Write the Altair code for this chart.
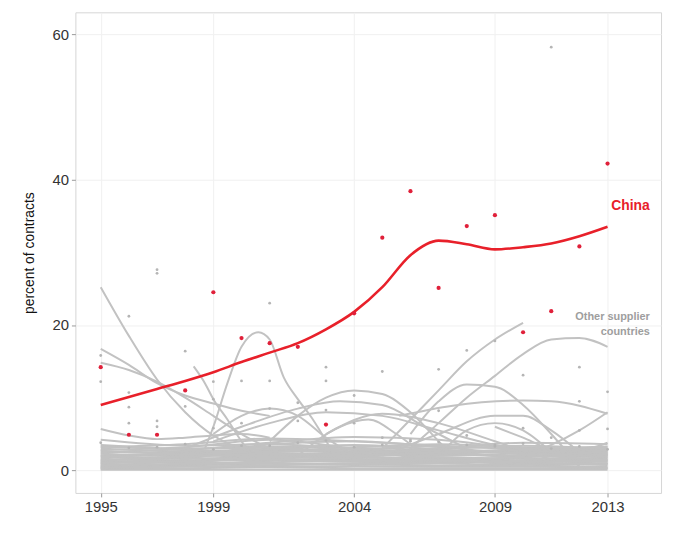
import altair as alt
import pandas as pd

# ---- China (red) ----
china_years = list(range(1995, 2014))
china_values = [14.2, 4.9, 4.9, 11.0, 24.5, 18.2, 17.5, 17.0, 6.3, 21.6,
                32.0, 38.4, 25.1, 33.6, 35.1, 19.0, 21.9, 30.8, 42.2]
china_smooth = [9.0, 10.1, 11.2, 12.3, 13.5, 14.9, 16.2, 17.5, 19.4, 21.8,
                25.2, 29.6, 31.6, 31.1, 30.4, 30.7, 31.2, 32.2, 33.5]

# ---- other supplier countries: smoothed curves (year knots, values) ----
K = [1995, 1998, 2001, 2004, 2007, 2010, 2013]
other_lines = {
    "L01": (K, [0.1, 0.1, 0.1, 0.1, 0.1, 0.1, 0.1]),
    "L02": (K, [0.3, 0.3, 0.4, 0.3, 0.3, 0.3, 0.3]),
    "L03": (K, [0.5, 0.6, 0.5, 0.6, 0.5, 0.5, 0.6]),
    "L04": (K, [0.8, 0.7, 0.9, 0.8, 0.7, 0.8, 0.9]),
    "L05": (K, [1.0, 1.1, 0.9, 1.0, 1.2, 1.0, 1.0]),
    "L06": (K, [1.2, 1.3, 1.4, 1.2, 1.1, 1.3, 1.2]),
    "L07": (K, [1.5, 1.4, 1.6, 1.5, 1.6, 1.4, 1.5]),
    "L08": (K, [1.8, 1.6, 1.9, 1.7, 1.8, 1.6, 1.7]),
    "L09": (K, [2.0, 2.1, 1.8, 2.0, 2.2, 1.9, 2.0]),
    "L10": (K, [2.3, 2.0, 2.4, 2.2, 2.0, 2.3, 2.1]),
    "L11": (K, [2.6, 2.4, 2.7, 2.5, 2.4, 2.6, 2.3]),
    "L12": (K, [3.0, 2.6, 2.9, 2.8, 2.6, 2.7, 2.5]),
    "L13": (K, [3.5, 3.0, 3.3, 3.1, 2.8, 2.5, 2.2]),
    "L14": (K, [4.2, 3.4, 3.6, 3.0, 2.4, 2.0, 1.8]),
    "L15": (K, [0.2, 1.0, 2.0, 2.5, 1.5, 0.8, 0.4]),
    "L16": (K, [1.3, 2.0, 3.0, 3.5, 2.8, 1.6, 0.9]),
    "L17": (K, [0.6, 1.5, 3.6, 4.0, 3.2, 2.2, 1.4]),
    "L18": (K, [2.8, 3.2, 4.2, 3.0, 1.8, 1.2, 1.5]),
    "L19": (K, [1.6, 2.7, 3.8, 4.6, 4.2, 3.0, 2.6]),
    "L20": (K, [0.9, 1.8, 2.6, 3.2, 3.6, 3.2, 2.8]),
    "L21": (K, [0.4, 0.8, 1.3, 1.8, 2.4, 2.8, 3.2]),
    "L22": (K, [2.4, 2.9, 3.1, 2.6, 2.9, 3.4, 3.0]),
    "L23": (K, [3.2, 3.6, 4.4, 4.0, 3.4, 2.9, 2.4]),
    "L24": (K, [1.1, 1.2, 1.7, 2.3, 3.0, 3.8, 3.6]),
    "L25": (K, [2.1, 2.3, 2.5, 2.9, 3.3, 3.0, 2.7]),
    "L26": (K, [0.7, 0.9, 1.1, 1.4, 1.3, 1.1, 0.8]),
    "L27": (K, [1.9, 1.7, 1.5, 1.3, 1.5, 1.8, 2.2]),
    "L28": (K, [2.7, 2.2, 2.0, 2.4, 2.7, 2.4, 1.9]),
    "L29": (K, [0.4, 0.5, 0.7, 0.9, 1.0, 0.6, 0.3]),
    "L30": (K, [1.4, 1.9, 2.2, 1.9, 1.4, 1.2, 1.3]),
    "L31": (K, [3.3, 2.8, 2.3, 2.1, 2.5, 2.9, 3.3]),
    "G1": ([1995, 1996, 1997, 1998, 1999, 2000, 2001], [25.2, 18.5, 12.5, 8.0, 4.8, 3.0, 2.2]),
    "G2": ([1995, 1996, 1997, 1998, 1999, 2000, 2001], [16.7, 14.5, 12.0, 10.3, 9.2, 8.2, 7.5]),
    "G3": ([1995, 1996, 1997, 1998, 1999, 2000, 2001], [14.8, 13.8, 12.2, 10.0, 7.5, 5.0, 3.0]),
    "G4": ([1995, 1996, 1997, 1998, 1999, 2000, 2001], [5.7, 4.8, 4.3, 4.5, 4.8, 5.0, 4.5]),
    "G5": ([1998.3, 1998.7, 1999, 1999.5, 2000, 2000.5], [14.3, 12.0, 9.8, 7.0, 4.0, 1.5]),
    "G6": ([1998.7, 1999, 1999.5, 2000, 2000.6, 2001, 2001.5, 2002, 2002.5, 2003.1],
           [3.0, 6.0, 12.0, 17.0, 19.0, 18.0, 12.8, 9.8, 7.2, 3.4]),
    "M1": ([1998, 2000, 2002, 2003.5, 2005, 2006.5, 2008], [3.0, 6.0, 8.5, 9.5, 9.0, 6.0, 3.0]),
    "M2": ([2001, 2002, 2003, 2004, 2005, 2006, 2007, 2007.5], [4.0, 7.5, 10.0, 11.0, 10.5, 8.0, 4.0, 2.0]),
    "M3": ([1999, 2001, 2003, 2005, 2007, 2009, 2011], [4.0, 6.5, 8.0, 7.5, 5.5, 3.5, 2.5]),
    "M4": ([2003, 2005, 2007, 2009, 2011], [5.0, 7.8, 6.5, 4.0, 1.5]),
    "M5": ([2002, 2003.5, 2004.5, 2005.5, 2006.5], [2.0, 6.0, 7.0, 5.0, 2.0]),
    "M6": ([2007, 2008, 2009, 2010, 2011], [2.0, 5.5, 6.5, 5.5, 2.5]),
    "M7": ([2010, 2011, 2012, 2013], [2.0, 3.5, 5.5, 8.0]),
    "M8": ([2009, 2010, 2011, 2012, 2013], [6.0, 4.5, 3.0, 2.8, 3.8]),
    "M9": ([2005, 2007, 2009, 2010, 2011, 2012], [2.0, 5.0, 7.5, 7.5, 5.5, 2.5]),
    "M10": ([1999, 2000, 2001, 2002, 2003, 2004], [5.0, 7.5, 8.5, 7.5, 4.5, 2.0]),
    "R1": ([2005, 2006, 2007, 2008, 2009, 2010], [3.0, 7.0, 11.0, 15.0, 18.0, 20.3]),
    "R2": ([2005.5, 2006, 2007, 2008, 2009, 2010, 2011, 2012, 2013], [1.0, 3.0, 6.5, 10.0, 13.0, 16.0, 18.0, 18.2, 17.0]),
    "R3": ([2006, 2007, 2008, 2009, 2010, 2011, 2012], [5.0, 9.5, 11.8, 11.5, 9.0, 5.0, 0.5]),
    "R4": ([2005.6, 2007.5, 2010, 2011, 2013], [7.5, 8.9, 9.6, 9.5, 7.8]),
}

# ---- other supplier countries: observed points ----
other_pt_year = [1995, 1995, 1996, 1996, 1996, 1996, 1997, 1997, 1997, 1997,
                 1998, 1998, 1999, 1999, 1999, 2000, 2000, 2001, 2001, 2001,
                 2002, 2002, 2003, 2003, 2003, 2004, 2004, 2005, 2005, 2006,
                 2007, 2007, 2008, 2008, 2009, 2009, 2010, 2010, 2011, 2011,
                 2012, 2012, 2012, 2013, 2013,
                 1995, 1997, 1999, 2001, 2003, 2005, 2007, 2009, 2011, 2013,
                 1996, 1998, 2000, 2002, 2004, 2006, 2008, 2010, 2012]
other_pt_val = [15.8, 12.2, 21.2, 10.7, 8.7, 6.5, 27.6, 27.1, 6.8, 6.0,
                16.4, 8.8, 12.2, 9.8, 5.8, 12.3, 6.5, 23.0, 12.3, 8.5,
                9.3, 6.8, 14.2, 12.3, 8.3, 10.3, 6.5, 13.6, 4.5, 4.2,
                13.9, 8.2, 16.5, 4.8, 17.8, 3.5, 13.1, 5.8, 58.2, 4.5,
                14.2, 9.5, 5.5, 10.8, 5.7,
                3.8, 3.2, 2.9, 3.4, 4.1, 3.5, 3.9, 3.3, 3.0, 2.9,
                3.1, 3.6, 3.4, 3.8, 3.2, 4.0, 3.5, 3.7, 3.3]

# ---- annotations ----
label_text = ["China", "Other supplier", "countries"]
label_year = [2014.5, 2014.5, 2014.5]
label_value = [36.3, 21.1, 19.0]
label_color = ["#e8202a", "#9e9e9e", "#9e9e9e"]
label_size = [14, 11, 11]

# ---- build tables ----
rows = []
for name, (yrs, vals) in other_lines.items():
    for yr, v in zip(yrs, vals):
        rows.append({"series": name, "year": yr, "value": v})
lines_df = pd.DataFrame(rows)
pts_df = pd.DataFrame({"year": other_pt_year, "value": other_pt_val})
china_df = pd.DataFrame({"year": china_years, "value": china_values, "smooth": china_smooth})
lab_df = pd.DataFrame({"text": label_text, "year": label_year, "value": label_value,
                       "color": label_color, "size": label_size})

xscale = alt.Scale(domain=[1994.1, 2014.9], nice=False, zero=False)
yscale = alt.Scale(domain=[-3.1, 63], nice=False, zero=False)
xax = alt.Axis(values=[1995, 1999, 2004, 2009, 2013], format="d", title=None,
               labelFontSize=15, labelColor="#333333", tickColor="#999999", tickSize=4,
               domain=False, grid=True, gridColor="#f0f0f0", labelPadding=3)
yax = alt.Axis(values=[0, 20, 40, 60], title="percent of contracts", titleFontSize=14,
               titleFontWeight="normal", titleColor="#111111", titlePadding=16,
               labelFontSize=15, labelColor="#333333", tickColor="#999999", tickSize=4,
               domain=False, grid=True, gridColor="#f0f0f0", labelPadding=3)

gray_lines = alt.Chart(lines_df).mark_line(interpolate="monotone", color="#c2c2c2", strokeWidth=2).encode(
    x=alt.X("year:Q", scale=xscale, axis=xax),
    y=alt.Y("value:Q", scale=yscale, axis=yax),
    detail="series:N",
)
gray_pts = alt.Chart(pts_df).mark_circle(color="#b5b5b5", size=8, opacity=1).encode(
    x=alt.X("year:Q", scale=xscale),
    y=alt.Y("value:Q", scale=yscale),
)
red_line = alt.Chart(china_df).mark_line(interpolate="monotone", color="#e8202a", strokeWidth=2.6).encode(
    x=alt.X("year:Q", scale=xscale),
    y=alt.Y("smooth:Q", scale=yscale),
)
red_pts = alt.Chart(china_df).mark_circle(color="#e0203a", size=18, opacity=1).encode(
    x=alt.X("year:Q", scale=xscale),
    y=alt.Y("value:Q", scale=yscale),
)
labels = alt.Chart(lab_df).mark_text(align="right", baseline="middle", fontWeight="bold",
                                      font="Liberation Sans").encode(
    x=alt.X("year:Q", scale=xscale),
    y=alt.Y("value:Q", scale=yscale),
    text="text:N",
    color=alt.Color("color:N", scale=None),
    size=alt.Size("size:Q", scale=None),
)

chart = alt.layer(gray_lines, gray_pts, red_line, red_pts, labels).properties(
    width=591, height=485,
    autosize=alt.AutoSizeParams(type="none"),
    padding={"left": 68, "top": 2, "right": 5, "bottom": 30},
).configure_view(stroke="#d6d6d6", strokeWidth=1).configure_axis(
    labelFont="Liberation Sans", titleFont="Liberation Sans"
)

chart.save("out.html", embed_options={"renderer": "svg", "actions": False})
